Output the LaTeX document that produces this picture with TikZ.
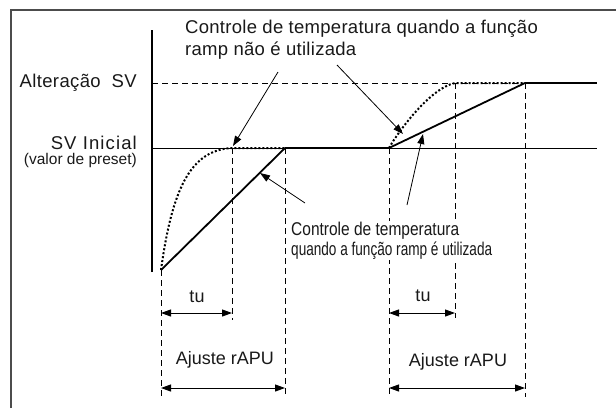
\documentclass[tikz,border=0pt]{standalone}
\usepackage{fontspec}
\setmainfont{Liberation Sans}
\usetikzlibrary{arrows.meta}
\begin{document}
\begin{tikzpicture}[x=1pt,y=-1pt,
  lbl/.style={inner sep=0pt, text=black!90, font=\fontsize{18}{22}\selectfont},
  widelbl/.style={inner sep=0pt, text=black!90, font=\fontsize{18.5}{22}\selectfont\addfontfeature{LetterSpace=2}},
  smalllbl/.style={inner sep=0pt, text=black!90, font=\fontsize{15.5}{18}\selectfont},
  tightlbl/.style={inner sep=1pt, fill=white, text=black!90, align=left,
    font=\fontsize{18.5}{20}\selectfont},
  frameln/.style={line width=2pt, draw=black!70},
  axisln/.style={line width=1.2pt},
  thinln/.style={line width=0.9pt},
  guide/.style={line width=0.9pt, dash pattern=on 6pt off 4pt},
  ramp/.style={line width=1.8pt},
  flat/.style={line width=2.6pt},
  dotcurve/.style={line width=2pt, dash pattern=on 2pt off 2pt},
  ptr/.style={line width=0.8pt, -{Triangle[length=10pt,width=7pt]}},
  dim/.style={line width=1pt, {Triangle[length=10pt,width=7pt]}-{Triangle[length=10pt,width=7pt]}},
]
\useasboundingbox (0,0) rectangle (616,408);
% frame
\draw[frameln] (11,408) -- (11,10) -- (616,10);
% key points
\coordinate (s1) at (161,270);
\coordinate (t1) at (232,148);
\coordinate (e1) at (285,148);
\coordinate (s2) at (389,148);
\coordinate (t2) at (455,83);
\coordinate (e2) at (525,83);
\coordinate (ax0) at (152,272);
\coordinate (ax1) at (152,30);
\coordinate (svl) at (152,148);
\coordinate (svr) at (597,148);
\coordinate (altl) at (152,83);
\coordinate (altr) at (597,83);
% guide verticals
\coordinate (g1) at (161,397);
\coordinate (g2) at (232,320);
\coordinate (g3) at (285,397);
\coordinate (g4) at (389,397);
\coordinate (g5) at (455,318);
\coordinate (g6) at (525,397);
\draw[guide] (s1) -- (g1);
\draw[guide] (t1) -- (g2);
\draw[guide] (e1) -- (g3);
\draw[guide] (s2) -- (g4);
\draw[guide] (t2) -- (g5);
\draw[guide] (e2) -- (g6);
% axis and levels
\draw[axisln] (ax0) -- (ax1);
\draw[thinln] (svl) -- (svr);
\draw[guide] (altl) -- (e2);
\draw[ramp] (e2) -- (altr);
% ramps
\draw[ramp] (s1) -- (e1);
\draw[flat] (e1) -- (s2);
\draw[ramp] (s2) -- (e2);
% dotted responses
\draw[dotcurve] (s1) .. controls (172,190) and (190,150) .. (t1) -- (e1);
\draw[dotcurve] (s2) .. controls (398,132) and (430,88) .. (t2) -- (e2);
% labels
\node[widelbl, anchor=east] (alt) at (137,83) {Alteração\ \ SV};
\node[inner sep=0pt, text=black!90, font=\fontsize{18.5}{22}\selectfont\addfontfeature{LetterSpace=6}, anchor=east] (svi) at (137,143) {SV Inicial};
\node[smalllbl, anchor=east] (pre) at (137,160) {(valor de preset)};
\node[inner sep=0pt, text=black!90, font=\fontsize{18.5}{22}\selectfont\addfontfeature{LetterSpace=1.5}, anchor=north west, align=left] (top) at (185,19.5)
  {Controle de temperatura quando a função\\ramp não é utilizada};
\node[tightlbl, anchor=north west] (bot) at (290,220.5)
  {\resizebox{168pt}{\height}{Controle de temperatura}\\
   \resizebox{201pt}{\height}{quando a função ramp é utilizada}};
% pointer arrows
\coordinate (p1s) at (278,72);  \coordinate (p1e) at (233,146);
\coordinate (p2s) at (337,65);  \coordinate (p2e) at (403,134);
\coordinate (p3s) at (305,203); \coordinate (p3e) at (260,173);
\coordinate (p4s) at (407,205); \coordinate (p4e) at (423,134);
\draw[ptr] (p1s) -- (p1e);
\draw[ptr] (p2s) -- (p2e);
\draw[ptr] (p3s) -- (p3e);
\draw[ptr] (p4s) -- (p4e);
% dimension arrows
\coordinate (d1a) at (161,313); \coordinate (d1b) at (232,313);
\coordinate (d2a) at (389,313); \coordinate (d2b) at (455,313);
\coordinate (d3a) at (161,388); \coordinate (d3b) at (285,388);
\coordinate (d4a) at (389,388); \coordinate (d4b) at (525,388);
\draw[dim] (d1a) -- (d1b);
\draw[dim] (d2a) -- (d2b);
\draw[dim] (d3a) -- (d3b);
\draw[dim] (d4a) -- (d4b);
\node[lbl] (tu1) at (197,297) {tu};
\node[lbl] (tu2) at (423,296) {tu};
\node[lbl] (aj1) at (225,360) {Ajuste rAPU};
\node[lbl] (aj2) at (458,362) {Ajuste rAPU};
\end{tikzpicture}
\end{document}
